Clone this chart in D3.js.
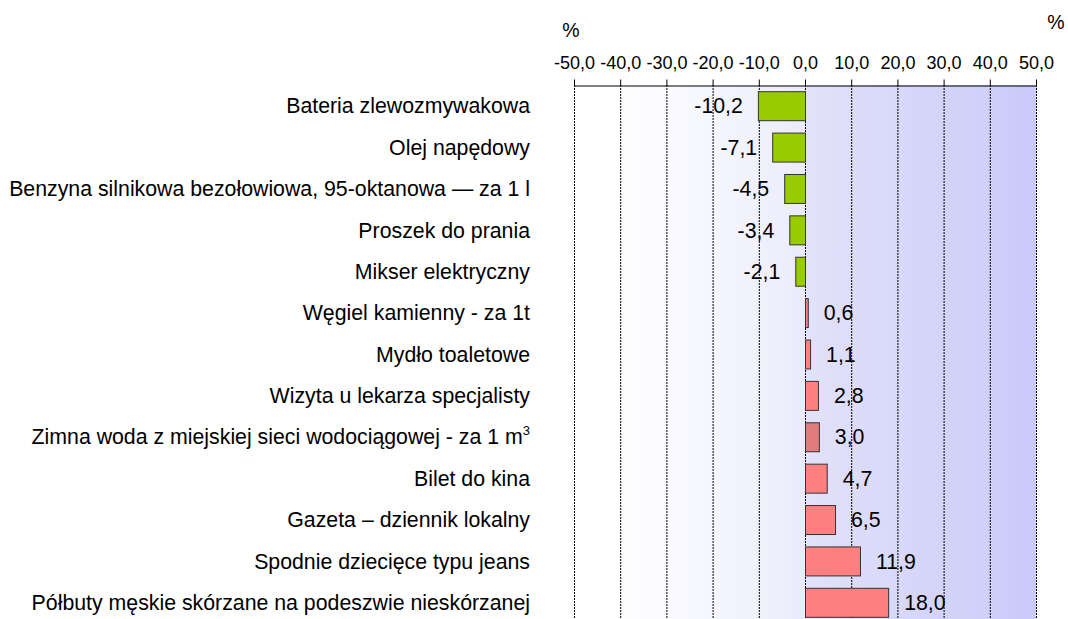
<!DOCTYPE html>
<html><head><meta charset="utf-8">
<script src="https://cdn.jsdelivr.net/npm/d3@7"></script>
<style>body{margin:0;background:#fff}text{font-family:Arial,"Liberation Sans",sans-serif;fill:#000}</style>
</head><body><svg id="c" width="1068" height="619"></svg>
<script>
const categories = [
 "Bateria zlewozmywakowa",
 "Olej napędowy",
 "Benzyna silnikowa bezołowiowa, 95-oktanowa — za 1 l",
 "Proszek do prania",
 "Mikser elektryczny",
 "Węgiel kamienny - za 1t",
 "Mydło toaletowe",
 "Wizyta u lekarza specjalisty",
 "Zimna woda z miejskiej sieci wodociągowej - za 1 m",
 "Bilet do kina",
 "Gazeta – dziennik lokalny",
 "Spodnie dziecięce typu jeans",
 "Półbuty męskie skórzane na podeszwie nieskórzanej"
];
const values = [-10.2, -7.1, -4.5, -3.4, -2.1, 0.6, 1.1, 2.8, 3.0, 4.7, 6.5, 11.9, 18.0];
const tickValues = [-50, -40, -30, -20, -10, 0, 10, 20, 30, 40, 50];
const superscripts = {8: "3"};
const highlighted = [8];

const svg = d3.select("#c");
const x = d3.scaleLinear().domain([-50, 50]).range([574, 1036]);
const y = d3.scaleBand().domain(categories).range([85, 623]).paddingInner(0.3).paddingOuter(0.15);

const defs = svg.append("defs");
const g = defs.append("linearGradient").attr("id", "bg").attr("x1", "0").attr("x2", "1").attr("y1", "0").attr("y2", "0");
[[0, "#ffffff"], [0.08, "#ffffff"], [0.2, "#fafaff"], [0.4, "#f1f1fd"], [0.5, "#eaeafc"], [0.5, "#e2e2fa"], [0.7, "#d8d8f9"], [0.9, "#cfcffa"], [1, "#c9c9fb"]]
 .forEach(([o, c]) => g.append("stop").attr("offset", o).attr("stop-color", c));

svg.append("rect").attr("x", x(-50)).attr("y", 85).attr("width", x(50) - x(-50)).attr("height", 619 - 85).attr("fill", "url(#bg)");

// gridlines
svg.append("g").selectAll("line").data(tickValues).join("line")
 .attr("x1", d => x(d) + 0.5).attr("x2", d => x(d) + 0.5)
 .attr("y1", 85).attr("y2", 619)
 .attr("stroke", "#000").attr("stroke-width", 1).attr("stroke-dasharray", "2,1");

// top axis
const fmt = d => d.toFixed(1).replace(".", ",");
const ax = svg.append("g").attr("transform", "translate(0,85.5)")
 .call(d3.axisTop(x).tickValues(tickValues).tickSize(6).tickSizeOuter(0).tickFormat(fmt));
ax.select(".domain").attr("stroke", "#000");
ax.selectAll(".tick line").attr("stroke", "#000");
ax.selectAll(".tick text").attr("font-size", 18).attr("font-family", "Arial, 'Liberation Sans', sans-serif").attr("fill", "#000")
 .attr("y", -16.5).attr("dy", 0);

// bars
svg.append("g").selectAll("rect").data(values).join("rect")
 .attr("x", d => x(Math.min(0, d)) + 0.5)
 .attr("y", (d, i) => y(categories[i]) + 0.5)
 .attr("width", d => Math.abs(x(d) - x(0)))
 .attr("height", y.bandwidth())
 .attr("fill", (d, i) => d < 0 ? "#99cc00" : (highlighted.includes(i) ? "#e07c7c" : "#ff8080"))
 .attr("stroke", "#333").attr("stroke-width", 1);

// value labels
svg.append("g").selectAll("text").data(values).join("text")
 .attr("x", d => d < 0 ? x(d) - 15 : x(d) + 16)
 .attr("y", (d, i) => y(categories[i]) + y.bandwidth() / 2)
 .attr("dy", "0.36em")
 .attr("text-anchor", d => d < 0 ? "end" : "start")
 .attr("font-size", 21.3)
 .text(fmt);

// category labels
const cl = svg.append("g").selectAll("text").data(categories).join("text")
 .attr("x", 530)
 .attr("y", d => y(d) + y.bandwidth() / 2)
 .attr("dy", "0.36em")
 .attr("text-anchor", "end")
 .attr("font-size", 21.3);
cl.each(function(d, i) {
 const t = d3.select(this);
 t.append("tspan").text(d);
 if (superscripts[i]) t.append("tspan").attr("font-size", 13).attr("dy", "-0.75em").text(superscripts[i]);
});

// unit labels
svg.append("text").attr("x", 571).attr("y", 37).attr("text-anchor", "middle").attr("font-size", 19.5).text("%");
svg.append("text").attr("x", 1056).attr("y", 29).attr("text-anchor", "middle").attr("font-size", 19.5).text("%");
</script></body></html>
